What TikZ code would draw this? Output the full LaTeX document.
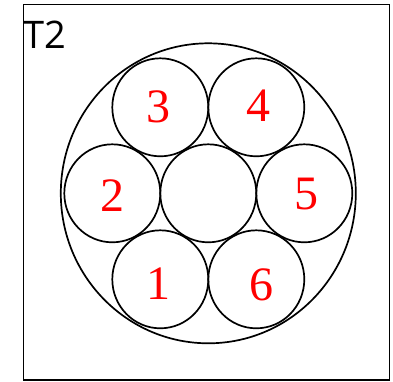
\documentclass[tikz,border=0pt]{standalone}
\usepackage{fontspec}
\setmainfont{Liberation Serif}
\newfontfamily\labelfont{Open Sans}
\begin{document}
\begin{tikzpicture}[x=1pt, y=-1pt, line width=1.7pt,
    num/.style={text=red, inner sep=0pt, font=\fontsize{48}{48}\selectfont}]
      \useasboundingbox (0, 0) rectangle (393, 381);
      \draw[line width=1.8pt] (23.5, 4.5) rectangle (389.5, 380);
      \node[anchor=base west, inner sep=0pt, font=\labelfont\fontsize{38}{38}\selectfont] (title) at (23, 48) {T2};

      % Cable and core
      \draw (208.3, 193.3) circle[x radius=147.5, y radius=150];
      \draw (208.3, 193.3) circle[x radius=48, y radius=49];

      % Top row
      \draw (160.3, 107.3) circle[x radius=48, y radius=49]; \draw (256.3, 107.3) circle[x radius=48, y radius=49];
      % Middle row
      \draw (112.3, 193.3) circle[x radius=48, y radius=49]; \draw (304.3, 193.3) circle[x radius=48, y radius=49];
      % Bottom row
      \draw (160.3, 279.3) circle[x radius=48, y radius=49]; \draw (256.3, 279.3) circle[x radius=48, y radius=49];

      % Wire numbers
      \node[num] (n3) at (158, 107) {3}; \node[num] (n4) at (258, 106) {4};
      \node[num] (n2) at (112, 196) {2}; \node[num] (n5) at (306, 194) {5};
      \node[num] (n1) at (158, 284) {1}; \node[num] (n6) at (261, 285) {6};
    \end{tikzpicture}
\end{document}
